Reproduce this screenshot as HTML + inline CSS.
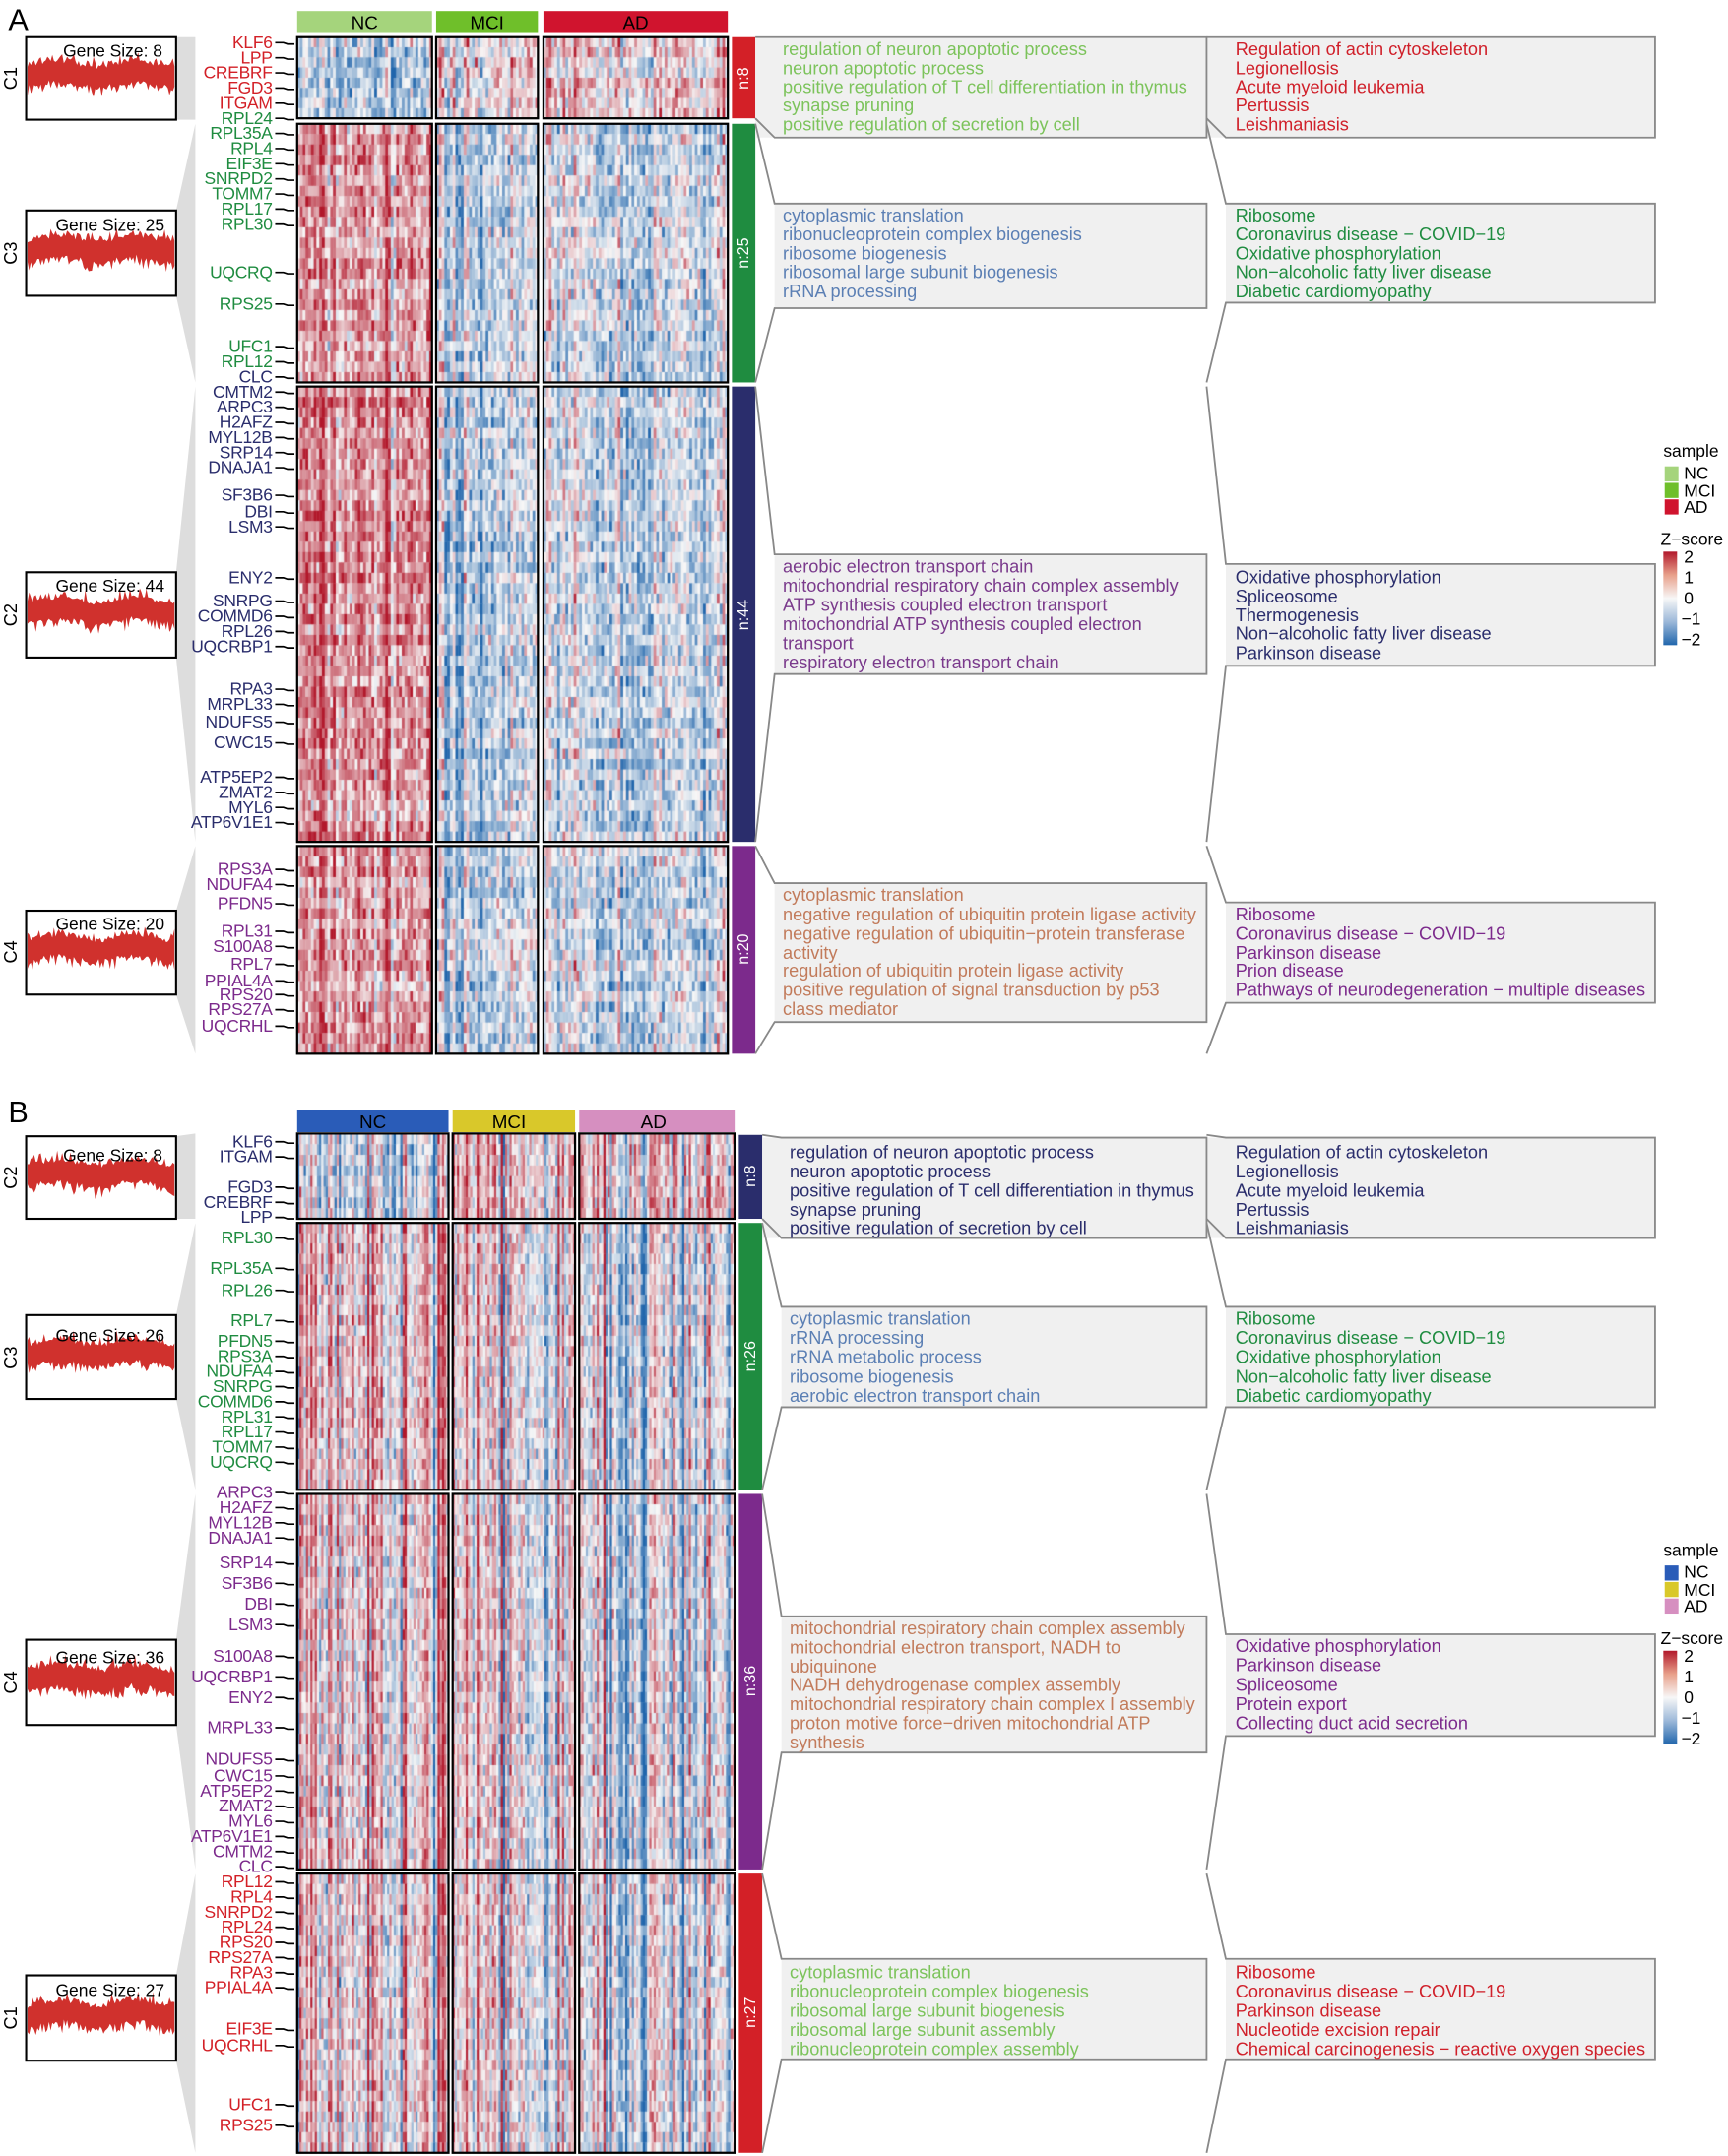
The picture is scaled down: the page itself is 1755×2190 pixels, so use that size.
<!DOCTYPE html>
<html><head><meta charset="utf-8"><style>
html,body{margin:0;padding:0;background:#fff;width:1755px;height:2190px;overflow:hidden}
#c{position:absolute;left:0;top:0}
svg{position:absolute;left:0;top:0}
text{font-family:"Liberation Sans",sans-serif}
.g{font-size:12.5px;text-anchor:end;letter-spacing:-0.2px}
.t{font-size:13px}
</style></head><body>
<canvas id="c" width="1755" height="2190"></canvas>
<svg id="s" width="1755" height="2190" viewBox="0 0 1256 1567.3">
<g id="hb"></g>
<!-- PANEL A -->
<text x="6" y="22" font-size="22">A</text>
<rect x="216" y="8" width="98" height="16" fill="#a5d47c"/><text x="265" y="21" font-size="13.5" text-anchor="middle">NC</text>
<rect x="317" y="8" width="74" height="16" fill="#6fbf2a"/><text x="354" y="21" font-size="13.5" text-anchor="middle">MCI</text>
<rect x="395" y="8" width="134" height="16" fill="#d0142e"/><text x="462" y="21" font-size="13.5" text-anchor="middle">AD</text>
<g fill="#ddd"><polygon points="128,27 142,27 142,87 128,87"/><polygon points="128,153 142,90 142,278 128,215"/><polygon points="128,416 142,281 142,612 128,478"/><polygon points="128,662 142,615 142,766 128,723"/></g>
<g fill="#fff" stroke="#000" stroke-width="1.5"><rect x="19" y="27" width="109" height="60"/><rect x="19" y="153" width="109" height="62"/><rect x="19" y="416" width="109" height="62"/><rect x="19" y="662" width="109" height="61"/></g>
<g id="trA"></g>
<g font-size="12.5" text-anchor="middle"><text x="82" y="41">Gene Size: 8</text><text x="80" y="168">Gene Size: 25</text><text x="80" y="430">Gene Size: 44</text><text x="80" y="676">Gene Size: 20</text></g>
<g font-size="13" text-anchor="middle"><text transform="translate(12,57) rotate(-90)">C1</text><text transform="translate(12,184) rotate(-90)">C3</text><text transform="translate(12,447) rotate(-90)">C2</text><text transform="translate(12,692) rotate(-90)">C4</text></g>
<rect x="532" y="27" width="17" height="59" fill="#d32027"/><rect x="532" y="90" width="17" height="188" fill="#1f8c40"/><rect x="532" y="281" width="17" height="331" fill="#2a2d6c"/><rect x="532" y="615" width="17" height="151" fill="#7c2a8c"/>
<g fill="#fff" font-size="11.5" text-anchor="middle"><text transform="translate(544,57) rotate(-90)">n:8</text><text transform="translate(544,184) rotate(-90)">n:25</text><text transform="translate(544,447) rotate(-90)">n:44</text><text transform="translate(544,690) rotate(-90)">n:20</text></g>
<g fill="#f0f0f0"><rect x="549" y="27" width="328" height="73"/><rect x="563" y="148" width="314" height="76"/><rect x="563" y="403" width="314" height="87"/><rect x="563" y="642" width="314" height="101"/>
<rect x="877" y="27" width="326" height="73"/><rect x="891" y="148" width="312" height="72"/><rect x="891" y="410" width="312" height="74"/><rect x="891" y="656" width="312" height="73"/></g>
<g fill="none" stroke="#888" stroke-width="1.3">
<polyline points="549,27 877,27 877,100 563,100 549,86"/><polyline points="549,90 563,148 877,148 877,224 563,224 549,278"/><polyline points="549,281 563,403 877,403 877,490 563,490 549,612"/><polyline points="549,615 563,642 877,642 877,743 563,743 549,766"/>
<polyline points="877,27 1203,27 1203,100 891,100 877,86"/><polyline points="877,90 891,148 1203,148 1203,220 891,220 877,278"/><polyline points="877,281 891,410 1203,410 1203,484 891,484 877,612"/><polyline points="877,615 891,656 1203,656 1203,729 891,729 877,766"/>
</g>
<g class="t" fill="#7cc35b"><text x="569" y="40">regulation of neuron apoptotic process</text><text x="569" y="54">neuron apoptotic process</text><text x="569" y="67.5">positive regulation of T cell differentiation in thymus</text><text x="569" y="81">synapse pruning</text><text x="569" y="95">positive regulation of secretion by cell</text></g>
<g class="t" fill="#5b7fb4"><text x="569" y="161">cytoplasmic translation</text><text x="569" y="174.5">ribonucleoprotein complex biogenesis</text><text x="569" y="188.5">ribosome biogenesis</text><text x="569" y="202">ribosomal large subunit biogenesis</text><text x="569" y="216">rRNA processing</text></g>
<g class="t" fill="#7a3a8c"><text x="569" y="416">aerobic electron transport chain</text><text x="569" y="430">mitochondrial respiratory chain complex assembly</text><text x="569" y="444">ATP synthesis coupled electron transport</text><text x="569" y="458">mitochondrial ATP synthesis coupled electron</text><text x="569" y="472">transport</text><text x="569" y="486">respiratory electron transport chain</text></g>
<g class="t" fill="#c27b5b"><text x="569" y="655">cytoplasmic translation</text><text x="569" y="669">negative regulation of ubiquitin protein ligase activity</text><text x="569" y="683">negative regulation of ubiquitin−protein transferase</text><text x="569" y="697">activity</text><text x="569" y="710">regulation of ubiquitin protein ligase activity</text><text x="569" y="724">positive regulation of signal transduction by p53</text><text x="569" y="738">class mediator</text></g>
<g class="t" fill="#d0202a"><text x="898" y="40">Regulation of actin cytoskeleton</text><text x="898" y="54">Legionellosis</text><text x="898" y="67.5">Acute myeloid leukemia</text><text x="898" y="81">Pertussis</text><text x="898" y="95">Leishmaniasis</text></g>
<g class="t" fill="#1f8c40"><text x="898" y="161">Ribosome</text><text x="898" y="174.5">Coronavirus disease − COVID−19</text><text x="898" y="188.5">Oxidative phosphorylation</text><text x="898" y="202">Non−alcoholic fatty liver disease</text><text x="898" y="216">Diabetic cardiomyopathy</text></g>
<g class="t" fill="#2a2d6c"><text x="898" y="424">Oxidative phosphorylation</text><text x="898" y="438">Spliceosome</text><text x="898" y="451.5">Thermogenesis</text><text x="898" y="465">Non−alcoholic fatty liver disease</text><text x="898" y="479">Parkinson disease</text></g>
<g class="t" fill="#7c2a8c"><text x="898" y="669">Ribosome</text><text x="898" y="683">Coronavirus disease − COVID−19</text><text x="898" y="697">Parkinson disease</text><text x="898" y="710">Prion disease</text><text x="898" y="724">Pathways of neurodegeneration − multiple diseases</text></g>
<text x="1209" y="332" font-size="12.5">sample</text>
<rect x="1210" y="339" width="10" height="11" fill="#a5d47c"/><rect x="1210" y="351" width="10" height="11" fill="#6fbf2a"/><rect x="1210" y="363" width="10" height="11" fill="#d0142e"/>
<g font-size="12.5"><text x="1224" y="348">NC</text><text x="1224" y="361">MCI</text><text x="1224" y="373">AD</text><text x="1207" y="396">Z−score</text>
<text x="1224" y="409">2</text><text x="1224" y="424">1</text><text x="1224" y="439">0</text><text x="1222" y="454">−1</text><text x="1222" y="469">−2</text></g>
<rect x="1209" y="401" width="10" height="68" fill="url(#zg)"/>
<g class="g" fill="#d32027"><text x="198" y="35">KLF6</text><text x="198" y="46">LPP</text><text x="198" y="57">CREBRF</text><text x="198" y="68">FGD3</text><text x="198" y="79">ITGAM</text></g>
<g class="g" fill="#1f8c40"><text x="198" y="90">RPL24</text><text x="198" y="101">RPL35A</text><text x="198" y="112">RPL4</text><text x="198" y="123">EIF3E</text><text x="198" y="134">SNRPD2</text><text x="198" y="145">TOMM7</text><text x="198" y="156">RPL17</text><text x="198" y="167">RPL30</text><text x="198" y="202">UQCRQ</text><text x="198" y="225">RPS25</text><text x="198" y="256">UFC1</text><text x="198" y="267">RPL12</text></g>
<g class="g" fill="#2a2d6c"><text x="198" y="278">CLC</text><text x="198" y="289">CMTM2</text><text x="198" y="300">ARPC3</text><text x="198" y="311">H2AFZ</text><text x="198" y="322">MYL12B</text><text x="198" y="333">SRP14</text><text x="198" y="344">DNAJA1</text><text x="198" y="364">SF3B6</text><text x="198" y="376">DBI</text><text x="198" y="387">LSM3</text><text x="198" y="424">ENY2</text><text x="198" y="441">SNRPG</text><text x="198" y="452">COMMD6</text><text x="198" y="463">RPL26</text><text x="198" y="474">UQCRBP1</text><text x="198" y="505">RPA3</text><text x="198" y="516">MRPL33</text><text x="198" y="529">NDUFS5</text><text x="198" y="544">CWC15</text><text x="198" y="569">ATP5EP2</text><text x="198" y="580">ZMAT2</text><text x="198" y="591">MYL6</text><text x="198" y="602">ATP6V1E1</text></g>
<g class="g" fill="#7c2a8c"><text x="198" y="636">RPS3A</text><text x="198" y="647">NDUFA4</text><text x="198" y="661">PFDN5</text><text x="198" y="681">RPL31</text><text x="198" y="692">S100A8</text><text x="198" y="705">RPL7</text><text x="198" y="717">PPIAL4A</text><text x="198" y="727">RPS20</text><text x="198" y="738">RPS27A</text><text x="198" y="750">UQCRHL</text></g>
<g id="ldA" stroke="#000" stroke-width="1.2" fill="none"></g>

<!-- PANEL B -->
<text x="6" y="816" font-size="22">B</text>
<rect x="216" y="807" width="110" height="16" fill="#2a5cb8"/><text x="271" y="820" font-size="13.5" text-anchor="middle">NC</text>
<rect x="329" y="807" width="89" height="16" fill="#d9c82a"/><text x="370" y="820" font-size="13.5" text-anchor="middle">MCI</text>
<rect x="421" y="807" width="113" height="16" fill="#d68fc0"/><text x="475" y="820" font-size="13.5" text-anchor="middle">AD</text>
<g fill="#ddd"><polygon points="128,826 142,824 142,886 128,886"/><polygon points="128,956 142,889 142,1083 128,1017"/><polygon points="128,1192 142,1086 142,1359 128,1254"/><polygon points="128,1436 142,1362 142,1565 128,1498"/></g>
<g fill="#fff" stroke="#000" stroke-width="1.5"><rect x="19" y="826" width="109" height="60"/><rect x="19" y="956" width="109" height="61"/><rect x="19" y="1192" width="109" height="62"/><rect x="19" y="1436" width="109" height="62"/></g>
<g id="trB"></g>
<g font-size="12.5" text-anchor="middle"><text x="82" y="844">Gene Size: 8</text><text x="80" y="975">Gene Size: 26</text><text x="80" y="1209">Gene Size: 36</text><text x="80" y="1451">Gene Size: 27</text></g>
<g font-size="13" text-anchor="middle"><text transform="translate(12,856) rotate(-90)">C2</text><text transform="translate(12,987) rotate(-90)">C3</text><text transform="translate(12,1223) rotate(-90)">C4</text><text transform="translate(12,1467) rotate(-90)">C1</text></g>
<rect x="537" y="825" width="17" height="61" fill="#2a2d6c"/><rect x="537" y="889" width="17" height="194" fill="#1f8c40"/><rect x="537" y="1086" width="17" height="273" fill="#7c2a8c"/><rect x="537" y="1362" width="17" height="203" fill="#d32027"/>
<g fill="#fff" font-size="11.5" text-anchor="middle"><text transform="translate(549,855) rotate(-90)">n:8</text><text transform="translate(549,986) rotate(-90)">n:26</text><text transform="translate(549,1222) rotate(-90)">n:36</text><text transform="translate(549,1463) rotate(-90)">n:27</text></g>
<g fill="#f0f0f0"><rect x="554" y="827" width="323" height="73"/><rect x="568" y="950" width="309" height="73"/><rect x="568" y="1175" width="309" height="99"/><rect x="568" y="1424" width="309" height="73"/>
<rect x="877" y="827" width="326" height="73"/><rect x="891" y="950" width="312" height="73"/><rect x="891" y="1188" width="312" height="74"/><rect x="891" y="1424" width="312" height="73"/></g>
<g fill="none" stroke="#888" stroke-width="1.3">
<polyline points="554,825 568,827 877,827 877,900 568,900 554,886"/><polyline points="554,889 568,950 877,950 877,1023 568,1023 554,1083"/><polyline points="554,1086 568,1175 877,1175 877,1274 568,1274 554,1359"/><polyline points="554,1362 568,1424 877,1424 877,1497 568,1497 554,1565"/>
<polyline points="877,825 891,827 1203,827 1203,900 891,900 877,886"/><polyline points="877,889 891,950 1203,950 1203,1023 891,1023 877,1083"/><polyline points="877,1086 891,1188 1203,1188 1203,1262 891,1262 877,1359"/><polyline points="877,1362 891,1424 1203,1424 1203,1497 891,1497 877,1565"/>
</g>
<g class="t" fill="#2a2d6c"><text x="574" y="842">regulation of neuron apoptotic process</text><text x="574" y="856">neuron apoptotic process</text><text x="574" y="870">positive regulation of T cell differentiation in thymus</text><text x="574" y="884">synapse pruning</text><text x="574" y="897">positive regulation of secretion by cell</text></g>
<g class="t" fill="#5b7fb4"><text x="574" y="963">cytoplasmic translation</text><text x="574" y="977">rRNA processing</text><text x="574" y="991">rRNA metabolic process</text><text x="574" y="1005">ribosome biogenesis</text><text x="574" y="1019">aerobic electron transport chain</text></g>
<g class="t" fill="#c27b5b"><text x="574" y="1188">mitochondrial respiratory chain complex assembly</text><text x="574" y="1202">mitochondrial electron transport, NADH to</text><text x="574" y="1216">ubiquinone</text><text x="574" y="1229">NADH dehydrogenase complex assembly</text><text x="574" y="1243">mitochondrial respiratory chain complex I assembly</text><text x="574" y="1257">proton motive force−driven mitochondrial ATP</text><text x="574" y="1271">synthesis</text></g>
<g class="t" fill="#7cc35b"><text x="574" y="1438">cytoplasmic translation</text><text x="574" y="1452">ribonucleoprotein complex biogenesis</text><text x="574" y="1466">ribosomal large subunit biogenesis</text><text x="574" y="1480">ribosomal large subunit assembly</text><text x="574" y="1494">ribonucleoprotein complex assembly</text></g>
<g class="t" fill="#2a2d6c"><text x="898" y="842">Regulation of actin cytoskeleton</text><text x="898" y="856">Legionellosis</text><text x="898" y="870">Acute myeloid leukemia</text><text x="898" y="884">Pertussis</text><text x="898" y="897">Leishmaniasis</text></g>
<g class="t" fill="#1f8c40"><text x="898" y="963">Ribosome</text><text x="898" y="977">Coronavirus disease − COVID−19</text><text x="898" y="991">Oxidative phosphorylation</text><text x="898" y="1005">Non−alcoholic fatty liver disease</text><text x="898" y="1019">Diabetic cardiomyopathy</text></g>
<g class="t" fill="#7c2a8c"><text x="898" y="1201">Oxidative phosphorylation</text><text x="898" y="1215">Parkinson disease</text><text x="898" y="1229">Spliceosome</text><text x="898" y="1243">Protein export</text><text x="898" y="1257">Collecting duct acid secretion</text></g>
<g class="t" fill="#d0202a"><text x="898" y="1438">Ribosome</text><text x="898" y="1452">Coronavirus disease − COVID−19</text><text x="898" y="1466">Parkinson disease</text><text x="898" y="1480">Nucleotide excision repair</text><text x="898" y="1494">Chemical carcinogenesis − reactive oxygen species</text></g>
<text x="1209" y="1131" font-size="12.5">sample</text>
<rect x="1210" y="1138" width="10" height="11" fill="#2a5cb8"/><rect x="1210" y="1150" width="10" height="11" fill="#d9c82a"/><rect x="1210" y="1162" width="10" height="11" fill="#d68fc0"/>
<g font-size="12.5"><text x="1224" y="1147">NC</text><text x="1224" y="1160">MCI</text><text x="1224" y="1172">AD</text><text x="1207" y="1195">Z−score</text>
<text x="1224" y="1208">2</text><text x="1224" y="1223">1</text><text x="1224" y="1238">0</text><text x="1222" y="1253">−1</text><text x="1222" y="1268">−2</text></g>
<rect x="1209" y="1200" width="10" height="68" fill="url(#zg)"/>
<g class="g" fill="#2a2d6c"><text x="198" y="834">KLF6</text><text x="198" y="845">ITGAM</text><text x="198" y="867">FGD3</text><text x="198" y="878">CREBRF</text><text x="198" y="889">LPP</text></g>
<g class="g" fill="#1f8c40"><text x="198" y="904">RPL30</text><text x="198" y="926">RPL35A</text><text x="198" y="942">RPL26</text><text x="198" y="964">RPL7</text><text x="198" y="979">PFDN5</text><text x="198" y="990">RPS3A</text><text x="198" y="1001">NDUFA4</text><text x="198" y="1012">SNRPG</text><text x="198" y="1023">COMMD6</text><text x="198" y="1034">RPL31</text><text x="198" y="1045">RPL17</text><text x="198" y="1056">TOMM7</text><text x="198" y="1067">UQCRQ</text></g>
<g class="g" fill="#7c2a8c"><text x="198" y="1089">ARPC3</text><text x="198" y="1100">H2AFZ</text><text x="198" y="1111">MYL12B</text><text x="198" y="1122">DNAJA1</text><text x="198" y="1140">SRP14</text><text x="198" y="1155">SF3B6</text><text x="198" y="1170">DBI</text><text x="198" y="1185">LSM3</text><text x="198" y="1208">S100A8</text><text x="198" y="1223">UQCRBP1</text><text x="198" y="1238">ENY2</text><text x="198" y="1260">MRPL33</text><text x="198" y="1283">NDUFS5</text><text x="198" y="1295">CWC15</text><text x="198" y="1306">ATP5EP2</text><text x="198" y="1317">ZMAT2</text><text x="198" y="1328">MYL6</text><text x="198" y="1339">ATP6V1E1</text><text x="198" y="1350">CMTM2</text><text x="198" y="1361">CLC</text></g>
<g class="g" fill="#d32027"><text x="198" y="1372">RPL12</text><text x="198" y="1383">RPL4</text><text x="198" y="1394">SNRPD2</text><text x="198" y="1405">RPL24</text><text x="198" y="1416">RPS20</text><text x="198" y="1427">RPS27A</text><text x="198" y="1438">RPA3</text><text x="198" y="1449">PPIAL4A</text><text x="198" y="1479">EIF3E</text><text x="198" y="1491">UQCRHL</text><text x="198" y="1534">UFC1</text><text x="198" y="1549">RPS25</text></g>
<defs><linearGradient id="zg" x1="0" y1="0" x2="0" y2="1"><stop offset="0" stop-color="#b2182b"/><stop offset="0.25" stop-color="#e8a08a"/><stop offset="0.5" stop-color="#f7f7f7"/><stop offset="0.75" stop-color="#9cb8d9"/><stop offset="1" stop-color="#2166ac"/></linearGradient></defs>
<g id="brd" fill="none" stroke="#000" stroke-width="1.6"></g>
</svg>
<script>
(function(){
var seed=7;function r(){seed=(seed*16807)%2147483647;return (seed-1)/2147483646;}
function n(){return (r()+r()+r()-1.5)*1.6;}
var cv=document.getElementById('c'),ctx=cv.getContext('2d');
ctx.scale(1755/1256,2190/1567.3);
function col(z){z=Math.max(-2,Math.min(2,z))/2;var a=[247,247,247],b,t;
 if(z>=0){t=z;b=[178,24,43];}else{t=-z;b=[33,102,172];}
 return 'rgb('+Math.round(a[0]+(b[0]-a[0])*t)+','+Math.round(a[1]+(b[1]-a[1])*t)+','+Math.round(a[2]+(b[2]-a[2])*t)+')';}
var NS='http://www.w3.org/2000/svg';var brd=document.getElementById('brd');
function panel(groups,clusters,means,colAmp,rowAmp,cwid,noise){
 groups.forEach(function(g,gi){
  var nc=Math.round((g[1]-g[0])/cwid),cw=(g[1]-g[0])/nc,ce=[];
  for(var k=0;k<nc;k++)ce.push(n()*colAmp);
  clusters.forEach(function(c,ci){
   var nr=c[2],rh=(c[1]-c[0])/nr,m=means[ci][gi];
   for(var i=0;i<nr;i++){var re=n()*rowAmp;
    for(var k=0;k<nc;k++){ctx.fillStyle=col(m+ce[k]+re+n()*noise);
     ctx.fillRect(g[0]+k*cw,c[0]+i*rh,cw+0.3,rh+0.3);}}
   var rc=document.createElementNS(NS,'rect');rc.setAttribute('x',g[0]);rc.setAttribute('y',c[0]);
   rc.setAttribute('width',g[1]-g[0]);rc.setAttribute('height',c[1]-c[0]);brd.appendChild(rc);
  });
 });
}
panel([[216,314],[317,391],[395,529]],[[27,86,8],[90,278,25],[281,612,44],[615,766,20]],
 [[-0.7,0.1,0.35],[0.75,-0.35,-0.35],[0.95,-0.5,-0.4],[0.85,-0.4,-0.4]],0.55,0.2,2,0.6);
panel([[216,326],[329,418],[421,534]],[[824,886,8],[889,1083,26],[1086,1359,36],[1362,1565,27]],
 [[-0.3,0.25,0.3],[0.5,-0.05,-0.25],[0.4,-0.05,-0.25],[0.35,-0.05,-0.2]],1.0,0.1,1.6,0.5);
function trend(id,boxes){var g=document.getElementById(id);
 boxes.forEach(function(b){var y0=b[1]+(b[2]-b[1])*0.45,top=[],bot=[];
  for(var x=20;x<=128;x+=1.2){var c=y0+Math.sin(x/9)*2+(r()-0.5)*3;
   top.push(x+','+(c-7-r()*r()*9).toFixed(1));bot.unshift(x+','+(c+7+r()*r()*10).toFixed(1));}
  var p=document.createElementNS(NS,'polygon');p.setAttribute('points',top.concat(bot).join(' '));
  p.setAttribute('fill','#d0312d');g.appendChild(p);});}
trend('trA',[[0,27,87],[0,153,215],[0,416,478],[0,662,723]]);
trend('trB',[[0,826,886],[0,956,1017],[0,1192,1254],[0,1436,1498]]);
document.querySelectorAll('.g text').forEach(function(t){var y=+t.getAttribute('y')-4;
 var l=document.createElementNS(NS,'path');l.setAttribute('d','M200,'+y+'L206,'+y+'L209,'+(y+1)+'L214,'+(y+1));
 l.setAttribute('stroke','#000');l.setAttribute('stroke-width','1.2');l.setAttribute('fill','none');
 document.getElementById('ldA').appendChild(l);});
})();
</script>
</body></html>
